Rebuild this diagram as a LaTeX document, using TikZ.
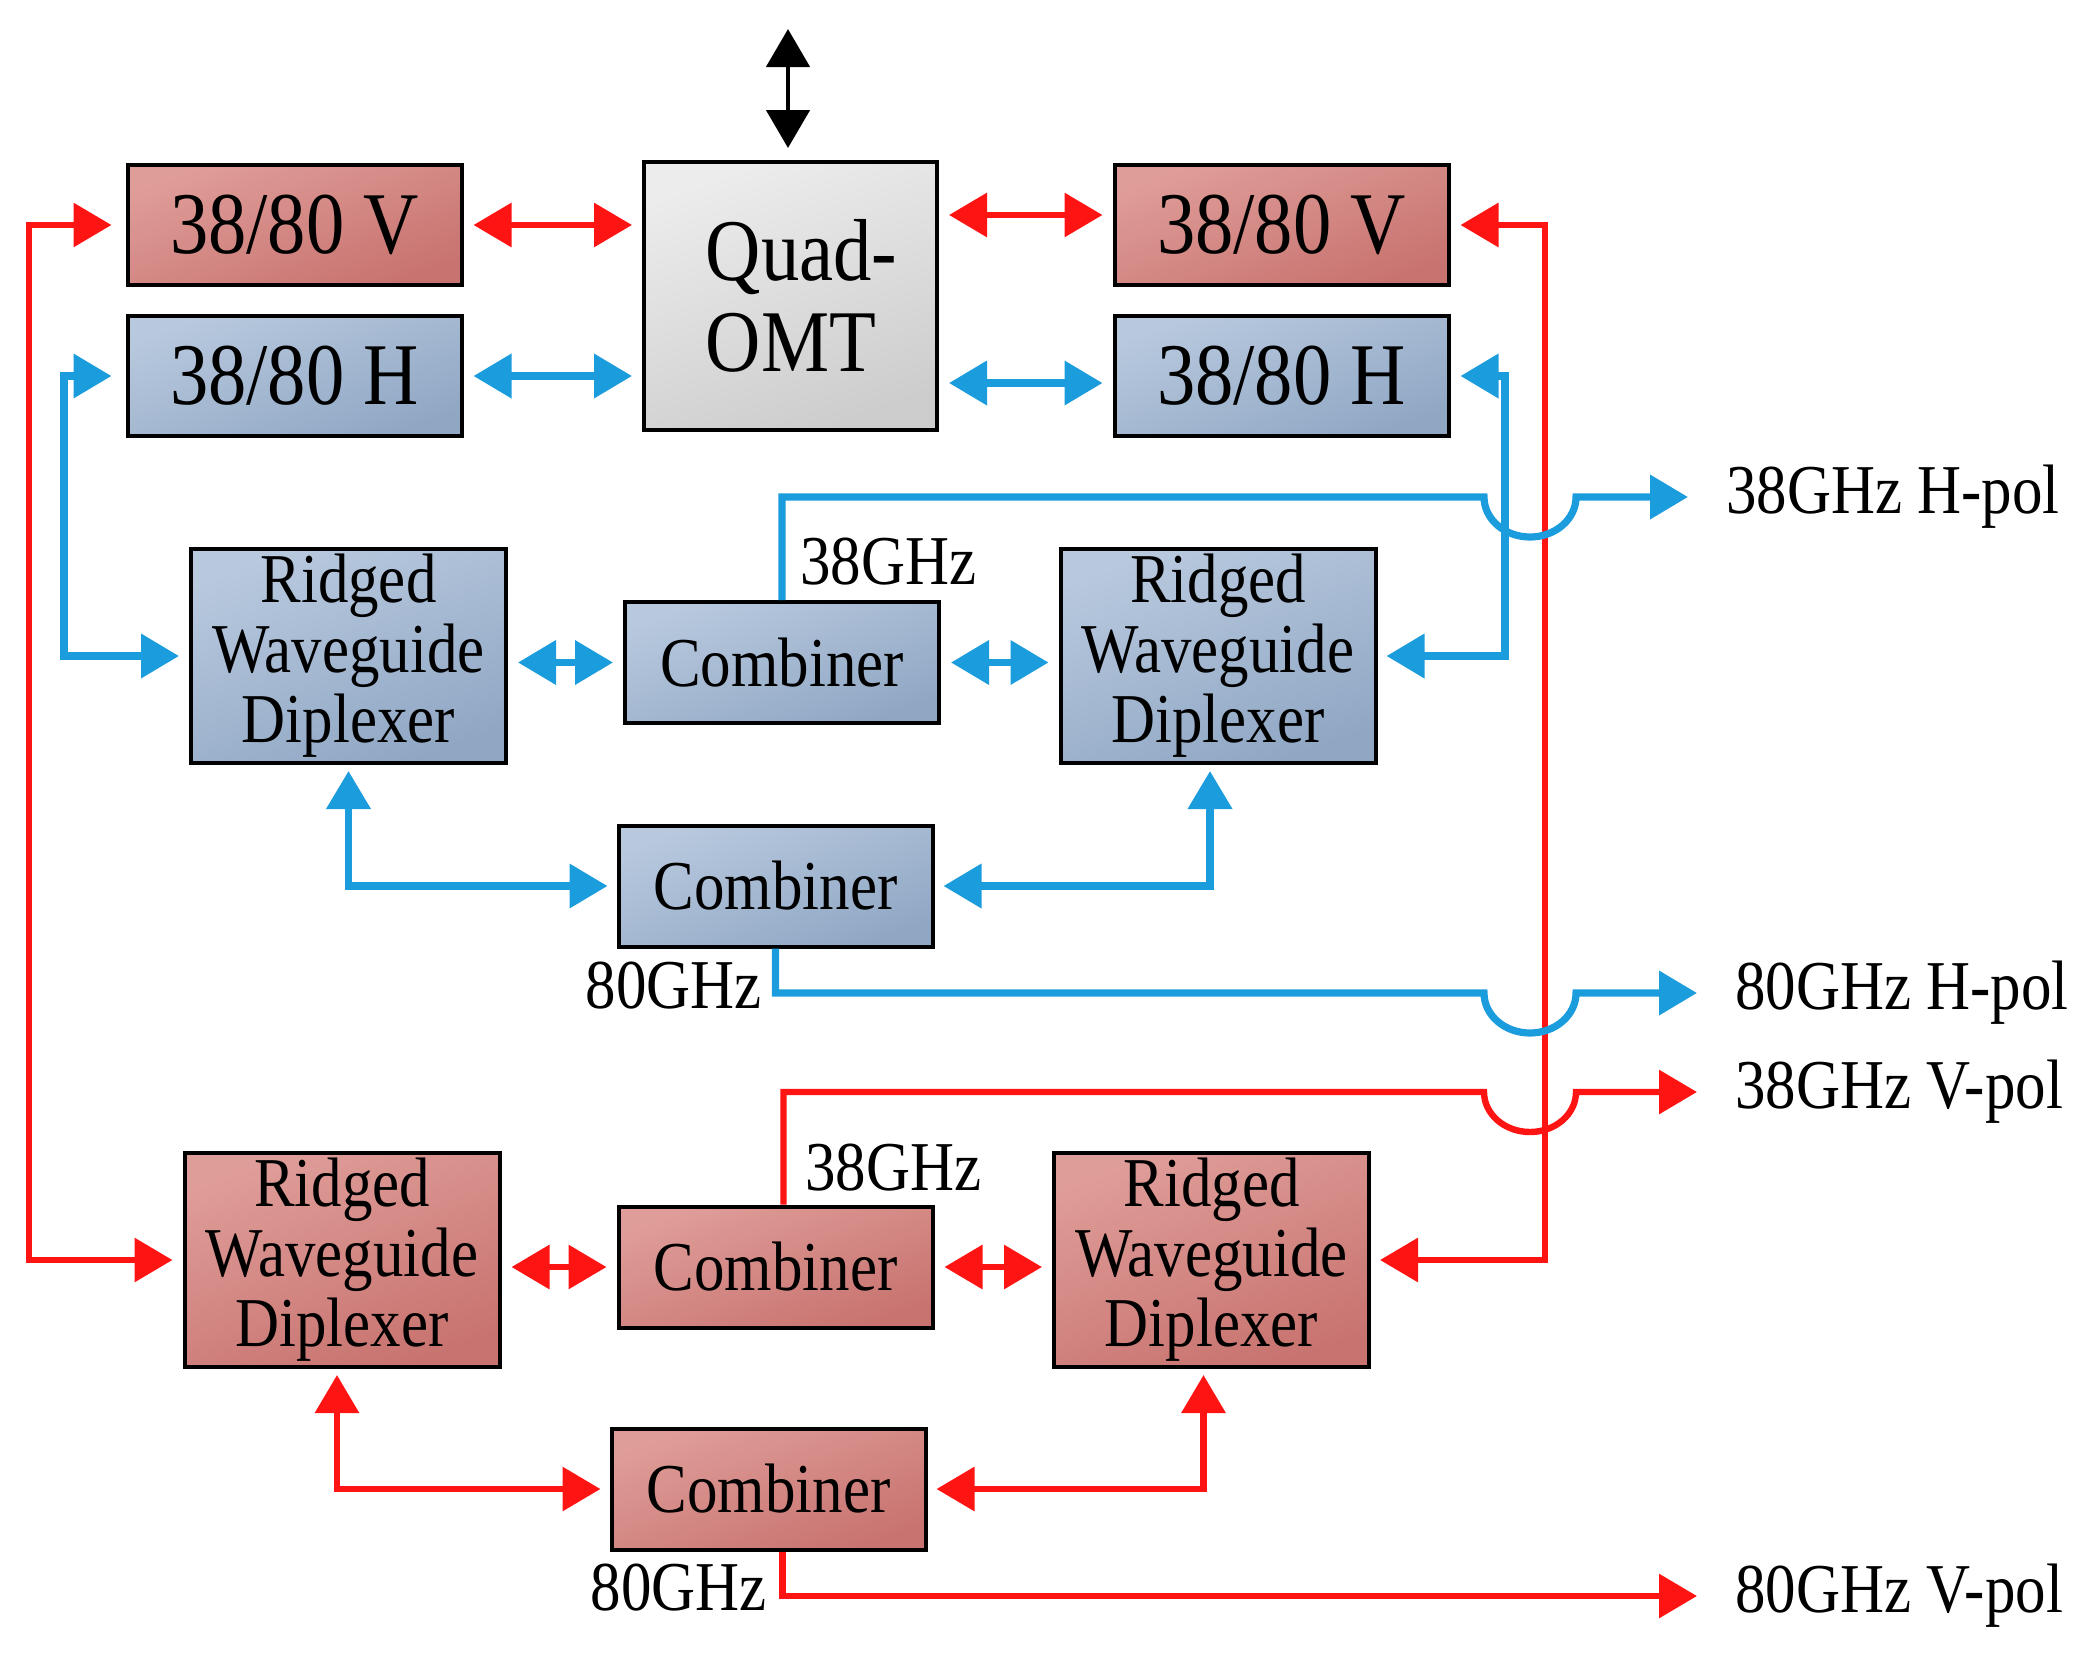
\documentclass[tikz,border=0pt]{standalone}
\usepackage{fontspec}
\setmainfont{Liberation Serif}[FakeStretch=0.87]
\usetikzlibrary{arrows.meta}
\definecolor{rtop}{HTML}{DF9D99}
\definecolor{rbot}{HTML}{C8736F}
\definecolor{btop}{HTML}{B8C9DE}
\definecolor{bbot}{HTML}{90A7C4}
\definecolor{gtop}{HTML}{ECECEC}
\definecolor{gbot}{HTML}{CDCDCD}
\definecolor{lred}{HTML}{FF1414}
\definecolor{lblue}{HTML}{1B9CDC}
\begin{document}
\begin{tikzpicture}[x=0.5pt,y=-0.5pt,
  box/.style={draw=black, line width=2pt, inner sep=0pt, align=center},
  redbox/.style={box, top color=rtop, bottom color=rbot, shading angle=20},
  bluebox/.style={box, top color=btop, bottom color=bbot, shading angle=20},
  graybox/.style={box, top color=gtop, bottom color=gbot, shading angle=20},
  pol/.style={minimum width=167pt, minimum height=60pt, font=\fontsize{44}{46}\selectfont},
  rwd/.style={minimum width=157.5pt, minimum height=107pt, font=\fontsize{35}{35}\selectfont},
  comb/.style={minimum width=157pt, minimum height=60.5pt, font=\fontsize{35}{36}\selectfont},
  mid/.style={font=\fontsize{35}{36}\selectfont, inner sep=0pt},
  rl/.style={draw=lred, line width=3.2pt},
  bl/.style={draw=lblue, line width=3.6pt},
  tip/.tip={Triangle[length=19pt,width=21.5pt]},
  dbl/.style={tip-tip},
  sgl/.style={-tip},
  gap/.style={shorten <=5pt, shorten >=5pt},
  hop/.style={x radius=23pt, y radius=20pt, start angle=180, end angle=360}
]
\useasboundingbox (0,0) rectangle (2098,1665);

% top row
\node[redbox, pol] (vL) at (294.5,225) {38/80 V};
\node[bluebox, pol] (hL) at (294.5,376) {38/80 H};
\node[graybox, minimum width=146.5pt, minimum height=134pt, align=left,
      font=\fontsize{44}{45.5}\selectfont] (omt) at (790.5,296)
      {\hspace*{11pt}Quad-\\\hspace*{11pt}OMT};
\node[redbox, pol] (vR) at (1281.5,225) {38/80 V};
\node[bluebox, pol] (hR) at (1281.5,376) {38/80 H};

% blue chain
\node[bluebox, rwd] (rwdBL) at (348.5,656) {Ridged\\Waveguide\\Diplexer};
\node[bluebox, comb] (combB1) at (782,662.5) {Combiner};
\node[bluebox, rwd] (rwdBR) at (1218,656) {Ridged\\Waveguide\\Diplexer};
\node[bluebox, comb] (combB2) at (775.5,886) {Combiner};

% red chain
\node[redbox, rwd] (rwdRL) at (342,1260) {Ridged\\Waveguide\\Diplexer};
\node[redbox, comb] (combR1) at (775.5,1267) {Combiner};
\node[redbox, rwd] (rwdRR) at (1211.5,1260) {Ridged\\Waveguide\\Diplexer};
\node[redbox, comb] (combR2) at (768.5,1489) {Combiner};

% labels
\node[mid, anchor=west] (l38b) at (800,562) {38GHz};
\node[mid, anchor=east] (l80b) at (762,986) {80GHz};
\node[mid, anchor=west] (l38r) at (805,1168) {38GHz};
\node[mid, anchor=east] (l80r) at (767,1588) {80GHz};
\node[mid, anchor=west] (o1) at (1726,497) {38GHz H-pol};
\node[mid, anchor=west] (o2) at (1735,993) {80GHz H-pol};
\node[mid, anchor=west] (o3) at (1735,1092) {38GHz V-pol};
\node[mid, anchor=west] (o4) at (1735,1596) {80GHz V-pol};

% antenna arrow
\coordinate (ant) at (788,29);
\draw[black, line width=2.4pt, dbl, shorten >=6pt] (ant) -- (ant |- omt.north);

% box-to-box arrows top
\draw[rl, dbl, gap] (vL.east) -- (vL.east -| omt.west);
\draw[bl, dbl, gap] (hL.east) -- (hL.east -| omt.west);
\draw[rl, dbl, gap] ([yshift=5pt]vR.west -| omt.east) -- ([yshift=5pt]vR.west);
\draw[bl, dbl, gap] ([yshift=-3.5pt]hR.west -| omt.east) -- ([yshift=-3.5pt]hR.west);

% side feeds
\coordinate (redLeft) at (29,700);
\coordinate (blueLeft) at (64,500);
\coordinate (redRight) at (1545,700);
\coordinate (blueRight) at (1505,500);
\draw[rl, dbl, shorten <=7pt, shorten >=5pt] (vL.west) -| (redLeft) |- (rwdRL.west);
\draw[bl, dbl, shorten <=7pt, shorten >=5pt] (hL.west) -| (blueLeft) |- (rwdBL.west);
\draw[rl, dbl, shorten <=5pt, shorten >=4.5pt] (vR.east) -| (redRight) |- (rwdRR.east);
\draw[bl, dbl, shorten <=5pt, shorten >=4.5pt] (hR.east) -| (blueRight) |- (rwdBR.east);

% blue chain links
\draw[bl, dbl, gap] (rwdBL.east |- combB1) -- (combB1.west);
\draw[bl, dbl, gap] (combB1.east) -- (combB1.east -| rwdBR.west);
\draw[bl, dbl, shorten <=3pt, shorten >=4.5pt] (rwdBL.south) |- (combB2.west);
\draw[bl, dbl, shorten <=3pt, shorten >=4.5pt] ([xshift=-4pt]rwdBR.south) |- (combB2.east);

% red chain links
\draw[rl, dbl, gap] (rwdRL.east |- combR1) -- (combR1.west);
\draw[rl, dbl, gap] (combR1.east) -- (combR1.east -| rwdRR.west);
\draw[rl, dbl, shorten <=3pt, shorten >=4.5pt] ([xshift=-2.5pt]rwdRL.south) |- (combR2.west);
\draw[rl, dbl, shorten <=3pt, shorten >=4.5pt] ([xshift=-4pt]rwdRR.south) |- (combR2.east);

% outputs with hops
\coordinate (h1) at (1484,497);
\coordinate (h2) at (1484,993);
\coordinate (h3) at (1484,1092);
\draw[bl, sgl, shorten >=19pt] (combB1.north) |- (h1) arc[hop] -- (o1.west);
\draw[bl, sgl, shorten >=19pt] (combB2.south) |- (h2) arc[hop] -- (o2.west);
\draw[rl, sgl, shorten >=19pt] ([xshift=4pt]combR1.north) |- (h3) arc[hop] -- (o3.west);
\draw[rl, sgl, shorten >=19pt] ([xshift=7pt]combR2.south) |- (o4.west);
\end{tikzpicture}
\end{document}
